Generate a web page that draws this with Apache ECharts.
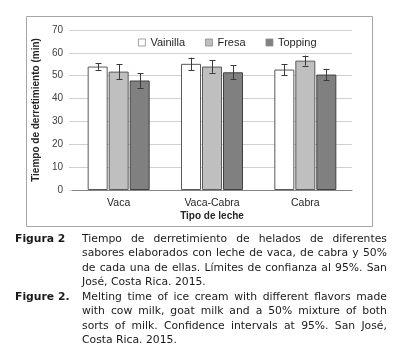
<!DOCTYPE html>
<html>
<head>
<meta charset="utf-8">
<script src="https://cdn.jsdelivr.net/npm/echarts@6/dist/echarts.min.js"></script>
<style>
html,body{margin:0;padding:0;background:#fff;}
#chart{position:absolute;left:0;top:0;width:405px;height:362px;}
.cap{position:absolute;font-family:"DejaVu Sans",sans-serif;font-size:10.8px;color:#1a1a1a;line-height:14.4px;white-space:nowrap;}
.lbl{font-weight:bold;left:15px;}
.ln{position:absolute;left:82px;width:305px;display:flex;justify-content:space-between;height:14.4px;}
.ln.last{justify-content:flex-start;}
.ln.last span{margin-right:0.318em;}
</style>
</head>
<body>
<div id="chart"></div>
<div id="caps"></div>
<script>
const categories = ['Vaca', 'Vaca-Cabra', 'Cabra'];
const seriesNames = ['Vainilla', 'Fresa', 'Topping'];
const vainilla = [54.0, 55.2, 52.7];
const fresa = [51.8, 54.0, 56.6];
const topping = [47.9, 51.5, 50.5];
const vainillaErr = [1.4, 2.7, 2.4];
const fresaErr = [3.3, 2.7, 2.2];
const toppingErr = [3.2, 3.1, 2.5];
const yTicks = [0, 10, 20, 30, 40, 50, 60, 70];

const captionEs = ['Tiempo de derretimiento de helados de diferentes',
  'sabores elaborados con leche de vaca, de cabra y 50%',
  'de cada una de ellas. Límites de confianza al 95%. San',
  'José, Costa Rica. 2015.'];
const captionEn = ['Melting time of ice cream with different flavors made',
  'with cow milk, goat milk and a 50% mixture of both',
  'sorts of milk. Confidence intervals at 95%. San José,',
  'Costa Rica. 2015.'];

const fills = ['#ffffff', '#bfbfbf', '#808080'];
const borders = ['#595959', '#595959', '#404040'];
const values = [vainilla, fresa, topping];
const errs = [vainillaErr, fresaErr, toppingErr];
const offsets = [-21, 0, 21];
const FONT = 'Liberation Sans';

const series = [];
seriesNames.forEach((n, k) => {
  series.push({
    name: n, type: 'bar', data: values[k], barWidth: 20, barGap: '5%',
    itemStyle: {color: fills[k], borderColor: borders[k], borderWidth: 1}
  });
});
seriesNames.forEach((n, k) => {
  const off = offsets[k];
  series.push({
    name: n + '_err', type: 'custom', z: 5,
    data: categories.map((c, i) => [i, values[k][i] - errs[k][i], values[k][i] + errs[k][i]]),
    encode: {x: 0, y: [1, 2]},
    renderItem: function (params, api) {
      const c = api.value(0);
      const lo = api.coord([c, api.value(1)]);
      const hi = api.coord([c, api.value(2)]);
      const x = Math.round(lo[0] + off) + 0.5;
      const st = {stroke: '#3a3a3a', lineWidth: 1};
      return {type: 'group', children: [
        {type: 'line', shape: {x1: x, y1: lo[1], x2: x, y2: hi[1]}, style: st},
        {type: 'line', shape: {x1: x - 3, y1: Math.round(lo[1]) + 0.5, x2: x + 3, y2: Math.round(lo[1]) + 0.5}, style: st},
        {type: 'line', shape: {x1: x - 3, y1: Math.round(hi[1]) + 0.5, x2: x + 3, y2: Math.round(hi[1]) + 0.5}, style: st}
      ]};
    }
  });
});

const chart = echarts.init(document.getElementById('chart'), null, {renderer: 'canvas'});
chart.setOption({
  animation: false,
  backgroundColor: '#ffffff',
  graphic: [{type: 'rect', z: -10, shape: {x: 26.5, y: 16.5, width: 346, height: 210},
    style: {fill: 'none', stroke: '#a6a6a6', lineWidth: 1}}],
  legend: {
    data: seriesNames.map(n => ({name: n, icon: 'rect'})), left: 133, top: 32, itemWidth: 7, itemHeight: 7, itemGap: 20,
    itemStyle: {borderColor: '#8c8c8c', borderWidth: 0.8},
    textStyle: {fontFamily: FONT, fontSize: 11, color: '#262626'}
  },
  grid: {left: 72, right: 53, top: 30, bottom: 172},
  xAxis: {
    type: 'category', data: categories,
    name: 'Tipo de leche', nameLocation: 'middle', nameGap: 21,
    nameTextStyle: {fontFamily: FONT, fontWeight: 'bold', fontSize: 10, color: '#262626'},
    axisLine: {lineStyle: {color: '#868686'}},
    axisTick: {length: 4, lineStyle: {color: '#868686'}},
    axisLabel: {margin: 8, fontFamily: FONT, fontSize: 10.5, color: '#262626'}
  },
  yAxis: {
    type: 'value', min: yTicks[0], max: yTicks[yTicks.length - 1], interval: yTicks[1] - yTicks[0],
    name: 'Tiempo de derretimiento (min)', nameLocation: 'middle', nameGap: 24,
    nameTextStyle: {fontFamily: FONT, fontWeight: 'bold', fontSize: 10, color: '#262626'},
    axisLine: {show: false},
    axisTick: {show: true, length: 3, lineStyle: {color: '#d0d0d0'}},
    splitLine: {lineStyle: {color: '#d0d0d0'}},
    axisLabel: {margin: 9, fontFamily: FONT, fontSize: 10, color: '#404040'}
  },
  series: series
});

// caption
const caps = document.getElementById('caps');
function addLabel(text, top) {
  const d = document.createElement('div');
  d.className = 'cap lbl'; d.style.top = top + 'px'; d.textContent = text;
  caps.appendChild(d);
}
function addPara(lines, top) {
  lines.forEach((l, i) => {
    const d = document.createElement('div');
    d.className = 'cap ln' + (i === lines.length - 1 ? ' last' : '');
    d.style.top = (top + i * 14.4) + 'px';
    l.split(' ').forEach(w => {
      const s = document.createElement('span'); s.textContent = w; d.appendChild(s);
    });
    caps.appendChild(d);
  });
}
addLabel('Figura 2', 232);
addPara(captionEs, 232);
addLabel('Figure 2.', 290);
addPara(captionEn, 290);
</script>
</body>
</html>
